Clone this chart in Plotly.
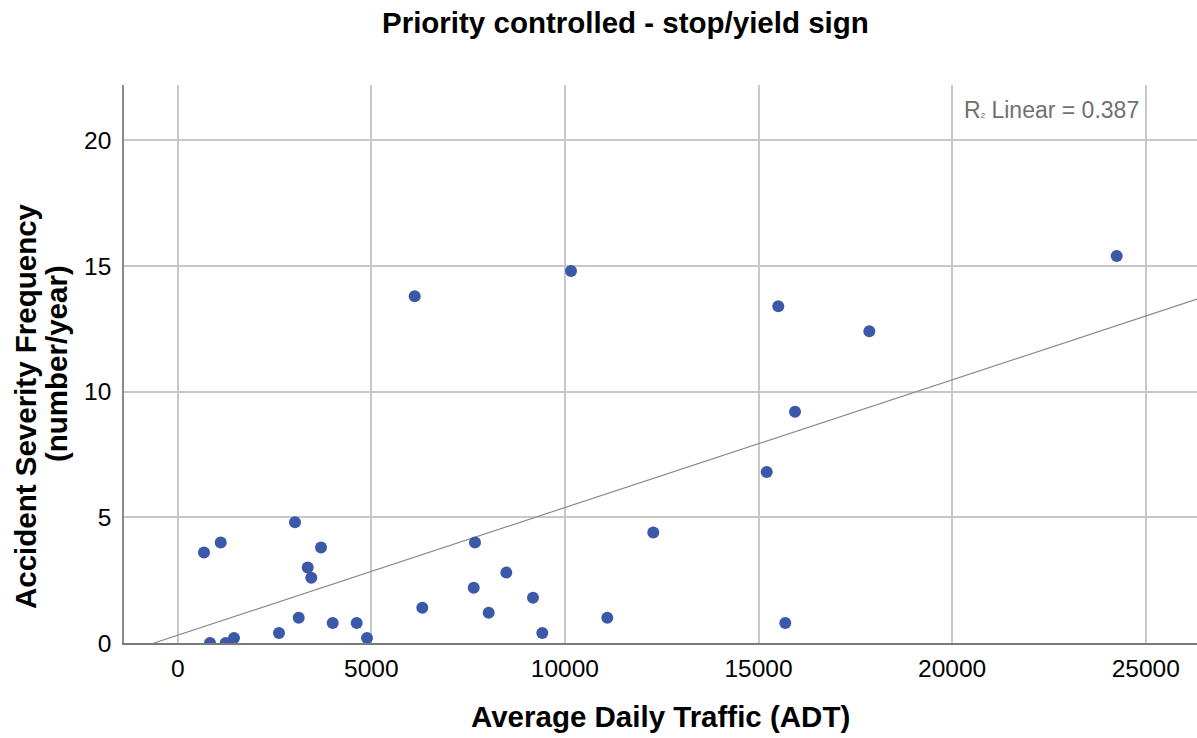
import numpy as np
import plotly.graph_objects as go

# Data
adt = [679, 1111, 834, 1240, 1454, 2616, 3029, 3125, 3357, 3450, 3701, 4003,
       4623, 4889, 6121, 6317, 7645, 7678, 8032, 8487, 9176, 9416, 10158,
       11095, 12283, 15212, 15511, 15692, 15943, 17862, 24251]
severity = [3.6, 4.0, 0.0, 0.0, 0.2, 0.4, 4.8, 1.0, 3.0, 2.6, 3.8, 0.8,
            0.8, 0.2, 13.8, 1.4, 2.2, 4.0, 1.2, 2.8, 1.8, 0.4, 14.8,
            1.0, 4.4, 6.8, 13.4, 0.8, 9.2, 12.4, 15.4]
x_ticks = [0, 5000, 10000, 15000, 20000, 25000]
x_tick_labels = ["0", "5000", "10000", "15000", "20000", "25000"]
y_ticks = [0, 5, 10, 15, 20]
y_tick_labels = ["0", "5", "10", "15", "20"]
r2_label = "0.387"

x_range = [-1387, 26325]
y_range = [0, 22.2]

slope, intercept = np.polyfit(adt, severity, 1)
fit_x = [-intercept / slope, x_range[1]]
fit_y = [slope * v + intercept for v in fit_x]

fig = go.Figure()
fig.add_trace(go.Scatter(x=fit_x, y=fit_y, mode="lines",
                         line=dict(color="#8a8a8a", width=1.2),
                         hoverinfo="skip", showlegend=False))
fig.add_trace(go.Scatter(x=adt, y=severity, mode="markers",
                         marker=dict(color="#3b58a9", size=12, line=dict(width=0)),
                         showlegend=False))

FONT = "Liberation Sans, Arial, sans-serif"
TFS = 29.5

fig.update_layout(
    width=1197, height=738,
    margin=dict(l=124, r=0, t=85, b=95),
    paper_bgcolor="white", plot_bgcolor="white",
    font=dict(family=FONT, color="black"),
    xaxis=dict(range=x_range, tickvals=x_ticks, ticktext=x_tick_labels,
               showgrid=True, gridcolor="#c8c8c8", gridwidth=1.5, zeroline=False,
               showline=True, linecolor="#7a7a7a", linewidth=2,
               ticks="", tickfont=dict(size=24.5, color="black"),
               ticklabelstandoff=3),
    yaxis=dict(range=y_range, tickvals=y_ticks, ticktext=y_tick_labels,
               showgrid=True, gridcolor="#c8c8c8", gridwidth=1.5, zeroline=False,
               showline=True, linecolor="#8a8a8a", linewidth=1.5,
               ticks="", tickfont=dict(size=24.5, color="black"),
               ticklabelstandoff=6),
    annotations=[
        dict(text="<b>Priority controlled - stop/yield sign</b>",
             xref="paper", yref="paper", x=(625 - 124) / 1073,
             y=1 + (85 - 23) / 558, xanchor="center", yanchor="middle",
             showarrow=False, font=dict(size=TFS, family=FONT, color="black")),
        dict(text="<b>Average Daily Traffic (ADT)</b>",
             xref="paper", yref="paper", x=(660 - 124) / 1073, y=(643 - 716) / 558,
             xanchor="center", yanchor="middle", showarrow=False,
             font=dict(size=TFS, family=FONT, color="black")),
        dict(text="<b>Accident Severity Frequency</b>",
             xref="paper", yref="paper", x=(26 - 124) / 1073,
             y=(643 - 406) / 558, xanchor="center", yanchor="middle",
             textangle=-90, showarrow=False,
             font=dict(size=TFS, family=FONT, color="black")),
        dict(text="<b>(number/year)</b>",
             xref="paper", yref="paper", x=(56 - 124) / 1073,
             y=(643 - 364) / 558, xanchor="center", yanchor="middle",
             textangle=-90, showarrow=False,
             font=dict(size=TFS, family=FONT, color="black")),
        dict(text="R<span style='font-size:8px'>2</span> Linear = " + r2_label,
             xref="paper", yref="paper", x=(1141 - 124) / 1073,
             y=(643 - 110) / 558, xanchor="right", yanchor="middle",
             showarrow=False,
             font=dict(size=23, family=FONT, color="#707070")),
    ],
)

fig.write_html("out.html")
